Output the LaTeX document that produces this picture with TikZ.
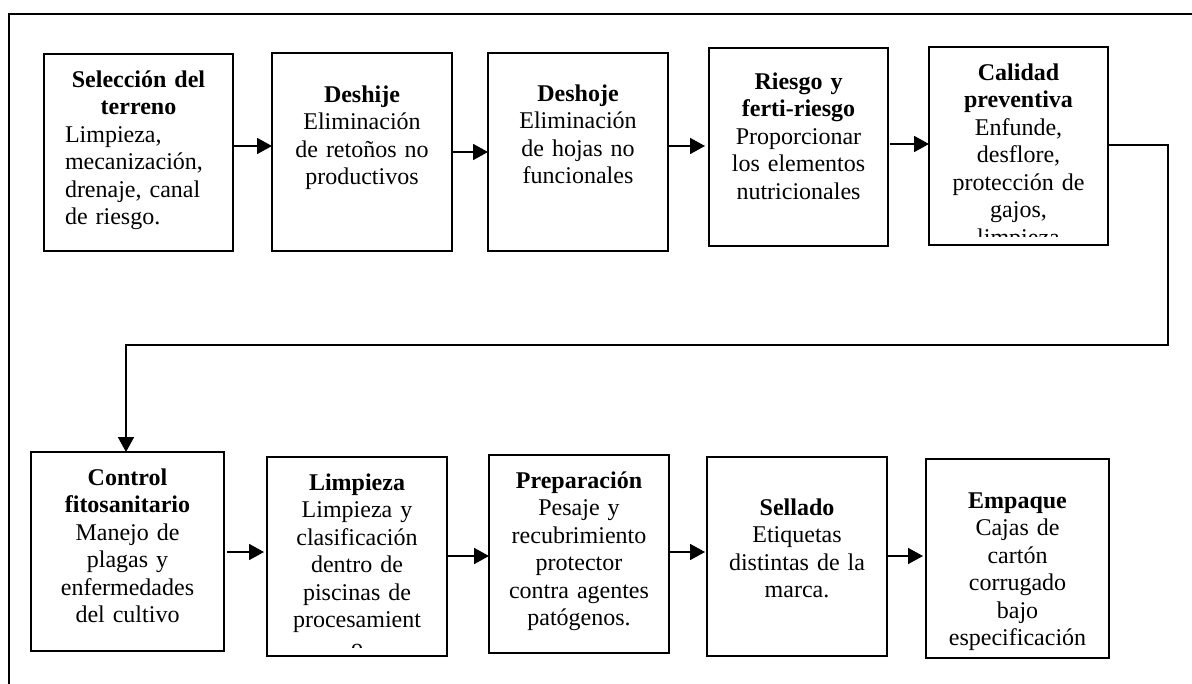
\documentclass[tikz,border=0pt]{standalone}
\usepackage{fontspec}
\setmainfont{Liberation Serif}
\usetikzlibrary{arrows.meta}
\AtBeginDocument{\fontsize{12}{13.75}\selectfont}
\begin{document}
\begin{tikzpicture}[x=0.5pt,y=-0.5pt,
  stage/.style={draw, line width=0.7pt, inner sep=0pt, outer sep=0pt},
  stagetext/.style={anchor=north, inner sep=0pt, text width=85pt, align=center,
    font=\fontsize{12}{13.75}\selectfont},
  flow/.style={line width=0.9pt, -{Triangle[length=7.5pt,width=8pt]}},
  pageframe/.style={line width=1.4pt}]
\useasboundingbox (0,0) rectangle (1192,684);

% page frame (top and left edges only)
\draw[pageframe] (9,684) -- (9,14) -- (1192,14);

% stage boxes, first row
\node[stage, minimum width=94.5pt, minimum height=98.5pt] (b1) at (138.5,152.5) {};
\node[stage, minimum width=90pt,   minimum height=99pt]   (b2) at (362,152) {};
\node[stage, minimum width=90pt,   minimum height=99pt]   (b3) at (578,152) {};
\node[stage, minimum width=89.5pt, minimum height=99pt]   (b4) at (798.5,147) {};
\node[stage, minimum width=89.5pt, minimum height=99pt]   (b5) at (1018.5,146) {};

% stage boxes, second row
\node[stage, minimum width=96.5pt, minimum height=99.5pt] (b6)  at (127.5,551.5) {};
\node[stage, minimum width=90pt,   minimum height=99.5pt] (b7)  at (357,556.5) {};
\node[stage, minimum width=90pt,   minimum height=99pt]   (b8)  at (579,554) {};
\node[stage, minimum width=90pt,   minimum height=99.5pt] (b9)  at (797,556.5) {};
\node[stage, minimum width=91.5pt, minimum height=99.5pt] (b10) at (1017.5,558.5) {};

% texts, first row
\node[stagetext, text width=73.5pt, align=left] (t1) at (138.5,67.75)
  {{\centering\bfseries\strut Selección del\\terreno\par}Limpieza,\\mecanización,\\drenaje, canal\\de riesgo.\par};
\node[stagetext] (t2) at (362,82.75)
  {\strut\textbf{Deshije}\\Eliminación\\de retoños no\\productivos\par};
\node[stagetext] (t3) at (578,81.75)
  {\strut\textbf{Deshoje}\\Eliminación\\de hojas no\\funcionales\par};
\node[stagetext] (t4) at (798.5,69.75)
  {\strut\textbf{Riesgo y}\\\textbf{ferti-riesgo}\\Proporcionar\\los elementos\\nutricionales\par};
\begin{scope}
  \clip (930,48) rectangle (1107,236);
  \node[stagetext] (t5) at (1018.5,60.75)
    {\strut\textbf{Calidad}\\\textbf{preventiva}\\Enfunde,\\desflore,\\protección de\\gajos,\\limpieza\par};
\end{scope}

% texts, second row
\node[stagetext] (t6) at (127.5,465.75)
  {\strut\textbf{Control}\\\textbf{fitosanitario}\\Manejo de\\plagas y\\enfermedades\\del cultivo\par};
\begin{scope}
  \clip (268,458) rectangle (446,647);
  \node[stagetext] (t7) at (357,470.75)
    {\strut\textbf{Limpieza}\\Limpieza y\\clasificación\\dentro de\\piscinas de\\procesamient\\o\par};
\end{scope}
\node[stagetext] (t8) at (579,468.75)
  {\strut\textbf{Preparación}\\Pesaje y\\recubrimiento\\protector\\contra agentes\\patógenos.\par};
\node[stagetext] (t9) at (797,495.75)
  {\strut\textbf{Sellado}\\Etiquetas\\distintas de la\\marca.\par};
\node[stagetext] (t10) at (1017.5,488.75)
  {\strut\textbf{Empaque}\\Cajas de\\cartón\\corrugado\\bajo\\especificación\par};

% connectors, first row
\draw[flow] (b1.east |- 0,146) -- (b2.west |- 0,146);
\draw[flow] (b2.east |- 0,152) -- (b3.west |- 0,152);
\draw[flow] (b3.east |- 0,146) -- ([xshift=-2pt]b4.west |- 0,146);
\draw[flow] ([xshift=1pt]b4.east |- 0,144) -- (b5.west |- 0,144);

% return line down to the second row
\coordinate (turn) at (1168,345);
\draw[flow] (b5.east |- 0,145) -| (turn) -| ([xshift=-0.75pt]b6.north);

% connectors, second row
\draw[flow] ([xshift=1.5pt]b6.east |- 0,552) -- ([xshift=-1.5pt]b7.west |- 0,552);
\draw[flow] (b7.east |- 0,556) -- (b8.west |- 0,556);
\draw[flow] (b8.east |- 0,552) -- ([xshift=-1pt]b9.west |- 0,552);
\draw[flow] (b9.east |- 0,556) -- ([xshift=-1.5pt]b10.west |- 0,556);
\end{tikzpicture}
\end{document}
